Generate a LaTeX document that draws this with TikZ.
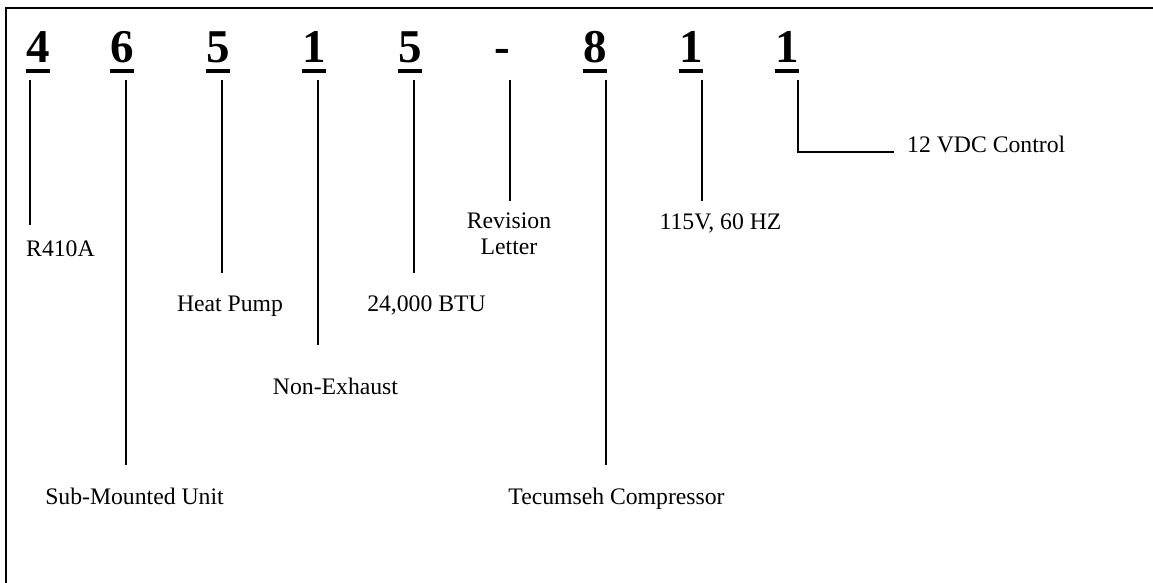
\documentclass[tikz,border=0pt]{standalone}
\usepackage{fontspec}
\setmainfont{Liberation Serif}
\usepackage{tikz}
\usetikzlibrary{calc}

\tikzset{
    digit/.style={anchor=base, inner sep=0pt, font=\fontsize{47}{47}\selectfont\bfseries},
    uline/.style={line width=4pt},
    lead/.style={line width=1.5pt},
    lbl/.style={anchor=base, inner sep=0pt, font=\fontsize{23.7}{26}\selectfont},
}

\begin{document}
\begin{tikzpicture}[x=1pt, y=-1pt]
        \useasboundingbox (0,0) rectangle (1153,583);

        % frame, cut at right and bottom
        \draw[line width=2.5pt, line join=miter] (6,583) -- (6,8) -- (1153,8);

        % model number
        \node[digit] (dA) at (38,63) {4};
        \node[digit] (dB) at (122,63) {6};
        \node[digit] (dC) at (218,63) {5};
        \node[digit] (dD) at (314,63) {1};
        \node[digit] (dE) at (410,63) {5};
        \node[digit] (dF) at (502,63) {-};
        \node[digit] (dG) at (595,63) {8};
        \node[digit] (dH) at (691,63) {1};
        \node[digit] (dI) at (787,63) {1};

        \foreach \d in {dA,dB,dC,dD,dE,dG,dH,dI}
            \draw[uline] ([yshift=-8pt]\d.base west) -- ([yshift=-8pt]\d.base east);

        % lead ends
        \coordinate (tA) at (30,80);   \coordinate (eA) at (30,225);
        \coordinate (tB) at (126,80);  \coordinate (eB) at (126,465);
        \coordinate (tC) at (222,80);  \coordinate (eC) at (222,273);
        \coordinate (tD) at (318,80);  \coordinate (eD) at (318,345);
        \coordinate (tE) at (414,80);  \coordinate (eE) at (414,273);
        \coordinate (tF) at (510,80);  \coordinate (eF) at (510,201);
        \coordinate (tG) at (606,80);  \coordinate (eG) at (606,465);
        \coordinate (tH) at (702,80);  \coordinate (eH) at (702,201);
        \coordinate (tI) at (798,80);  \coordinate (eI) at (894,152);

        \draw[lead] (tA) -- (eA);
        \draw[lead] (tB) -- (eB);
        \draw[lead] (tC) -- (eC);
        \draw[lead] (tD) -- (eD);
        \draw[lead] (tE) -- (eE);
        \draw[lead] (tF) -- (eF);
        \draw[lead] (tG) -- (eG);
        \draw[lead] (tH) -- (eH);
        \draw[lead] (tI) |- (eI);

        % meanings
        \node[lbl, anchor=base west] (lA) at (26,256) {R410A};
        \node[lbl] (lB) at (134.5,504) {Sub-Mounted Unit};
        \node[lbl] (lC) at (230,311) {Heat Pump};
        \node[lbl] (lD) at (335.5,394) {Non-Exhaust};
        \node[lbl] (lE) at (426.5,311) {24,000 BTU};
        \node[lbl, anchor=north, align=center] (lF) at (509,213) {Revision\\Letter};
        \node[lbl] (lG) at (616.5,504) {Tecumseh Compressor};
        \node[lbl] (lH) at (720.5,229) {115V, 60 HZ};
        \node[lbl, anchor=base west] (lI) at (907,152) {12 VDC Control};
    \end{tikzpicture}
\end{document}
